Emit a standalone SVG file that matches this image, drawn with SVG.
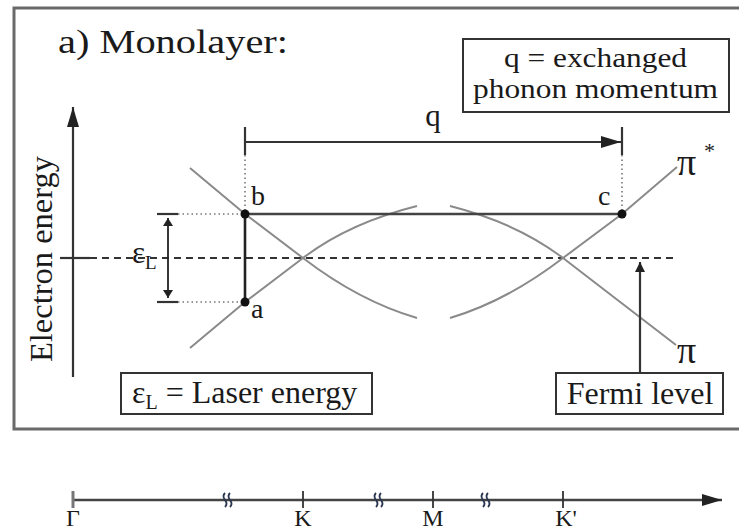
<svg xmlns="http://www.w3.org/2000/svg" width="739" height="531" viewBox="0 0 739 531">
<style>
text{font-family:"Liberation Serif","Times New Roman",Times,serif;fill:#1a1a1a}
.band{fill:none;stroke:#8a8a8a;stroke-width:2}
.dot{fill:none;stroke:#777;stroke-width:1.6;stroke-dasharray:1.5 3}
.solid{fill:none;stroke:#333;stroke-width:2.2}
.box{fill:#fff;stroke:#333;stroke-width:2}
.pt{fill:#111}
</style>
<defs>
<marker id="ah" viewBox="0 0 10 10" refX="10" refY="5" markerWidth="10" markerHeight="10" markerUnits="userSpaceOnUse" orient="auto"><path d="M0,0 L10,5 L0,10 Z" fill="#222"/></marker>
<marker id="ahBig" viewBox="0 0 10 10" refX="10" refY="5" markerWidth="20" markerHeight="12" markerUnits="userSpaceOnUse" orient="auto" preserveAspectRatio="none"><path d="M0,0 L10,5 L0,10 Z" fill="#222"/></marker>
<marker id="ahS" viewBox="0 0 10 10" refX="10" refY="5" markerWidth="8" markerHeight="10" markerUnits="userSpaceOnUse" orient="auto-start-reverse" preserveAspectRatio="none"><path d="M0,0 L10,5 L0,10 Z" fill="#222"/></marker>
</defs>
<rect x="14" y="8" width="740" height="421" fill="none" stroke="#6a6a6a" stroke-width="3"/>
<text x="58" y="53" font-size="34" textLength="230" lengthAdjust="spacingAndGlyphs">a) Monolayer:</text>
<g id="connectors">
<line x1="73" y1="377" x2="73" y2="107" class="solid" marker-end="url(#ahBig)"/>
<line x1="60" y1="258" x2="90" y2="258" class="solid"/>
<line x1="90" y1="258" x2="678" y2="258" stroke="#333" stroke-width="2" stroke-dasharray="7 5"/>
<path class="band" d="M190,168 L245,214 L303,258 Q359,301 417,318"/>
<path class="band" d="M190,348 L245,302 L303,258 Q349,223 417,206"/>
<path class="band" d="M450,206 Q517,223 563,258 L676,345"/>
<path class="band" d="M450,318 Q507,301 563,258 L622,214 L677,167"/>
<line x1="157" y1="214" x2="178" y2="214" class="solid"/>
<line x1="157" y1="302" x2="178" y2="302" class="solid"/>
<line x1="178" y1="214" x2="245" y2="214" class="dot"/>
<line x1="178" y1="302" x2="245" y2="302" class="dot"/>
<line x1="168" y1="218" x2="168" y2="298" stroke="#222" stroke-width="1.8" marker-start="url(#ahS)" marker-end="url(#ahS)"/>
<line x1="245" y1="127" x2="245" y2="155" class="solid"/>
<line x1="245" y1="155" x2="245" y2="212" class="dot"/>
<line x1="622" y1="127" x2="622" y2="155" class="solid"/>
<line x1="622" y1="155" x2="622" y2="212" class="dot"/>
<line x1="245" y1="142" x2="621" y2="142" class="solid" marker-end="url(#ahBig)"/>
<line x1="245" y1="214" x2="622" y2="214" stroke="#444" stroke-width="2.4"/>
<line x1="245" y1="214" x2="245" y2="302" stroke="#222" stroke-width="2.6"/>
<line x1="640" y1="372" x2="640" y2="262" class="solid" marker-end="url(#ah)"/>
<line x1="73" y1="500" x2="722" y2="500" stroke="#444" stroke-width="2.4" marker-end="url(#ahBig)"/>
<line x1="73" y1="491" x2="73" y2="508" stroke="#777" stroke-width="3"/>
<line x1="303" y1="491" x2="303" y2="508" stroke="#333" stroke-width="1.8"/>
<line x1="433" y1="491" x2="433" y2="508" stroke="#333" stroke-width="1.8"/>
<line x1="563" y1="491" x2="563" y2="508" stroke="#333" stroke-width="1.8"/>
<g fill="none" stroke="#2a3550" stroke-width="1.8">
<path d="M225,493 q-3,3 0,7 q3,4 0,7 M230,493 q-3,3 0,7 q3,4 0,7"/>
<path d="M376,493 q-3,3 0,7 q3,4 0,7 M381,493 q-3,3 0,7 q3,4 0,7"/>
<path d="M483,493 q-3,3 0,7 q3,4 0,7 M488,493 q-3,3 0,7 q3,4 0,7"/>
</g>
</g>
<g id="pt-a"><circle class="pt" cx="245" cy="302" r="4.5"/><text x="251" y="318" font-size="28">a</text></g>
<g id="pt-b"><circle class="pt" cx="245" cy="214" r="4.5"/><text x="251" y="205" font-size="28">b</text></g>
<g id="pt-c"><circle class="pt" cx="622" cy="214" r="4.5"/><text x="598" y="205" font-size="28">c</text></g>
<g id="label-q"><text x="433" y="126" font-size="31" text-anchor="middle">q</text></g>
<g id="label-eps"><text x="132" y="263" font-size="31">ε<tspan font-size="19" dy="6">L</tspan></text></g>
<g id="label-energy"><text transform="translate(52,259) rotate(-90)" font-size="32.5" text-anchor="middle">Electron energy</text></g>
<g id="label-pistar"><text x="677" y="175" font-size="38">π</text><text x="704" y="158" font-size="22">*</text></g>
<g id="label-pi"><text x="677" y="363" font-size="38">π</text></g>
<g id="box-q"><rect class="box" x="463" y="39" width="266" height="73"/><text x="504" y="67" font-size="28" textLength="183" lengthAdjust="spacingAndGlyphs">q = exchanged</text><text x="473" y="98" font-size="28" textLength="245" lengthAdjust="spacingAndGlyphs">phonon momentum</text></g>
<g id="box-laser"><rect class="box" x="121" y="373" width="251" height="41"/><text x="132" y="403" font-size="32">ε<tspan font-size="20" dy="6">L</tspan><tspan dy="-6"> = Laser energy</tspan></text></g>
<g id="box-fermi"><rect class="box" x="556" y="373" width="167" height="41"/><text x="640" y="404" font-size="32" text-anchor="middle">Fermi level</text></g>
<g id="k-labels">
<text x="73" y="526" font-size="24" text-anchor="middle">Γ</text>
<text x="303" y="526" font-size="24" text-anchor="middle">K</text>
<text x="433" y="526" font-size="24" text-anchor="middle">M</text>
<text x="566" y="526" font-size="24" text-anchor="middle">K'</text>
</g>
</svg>
